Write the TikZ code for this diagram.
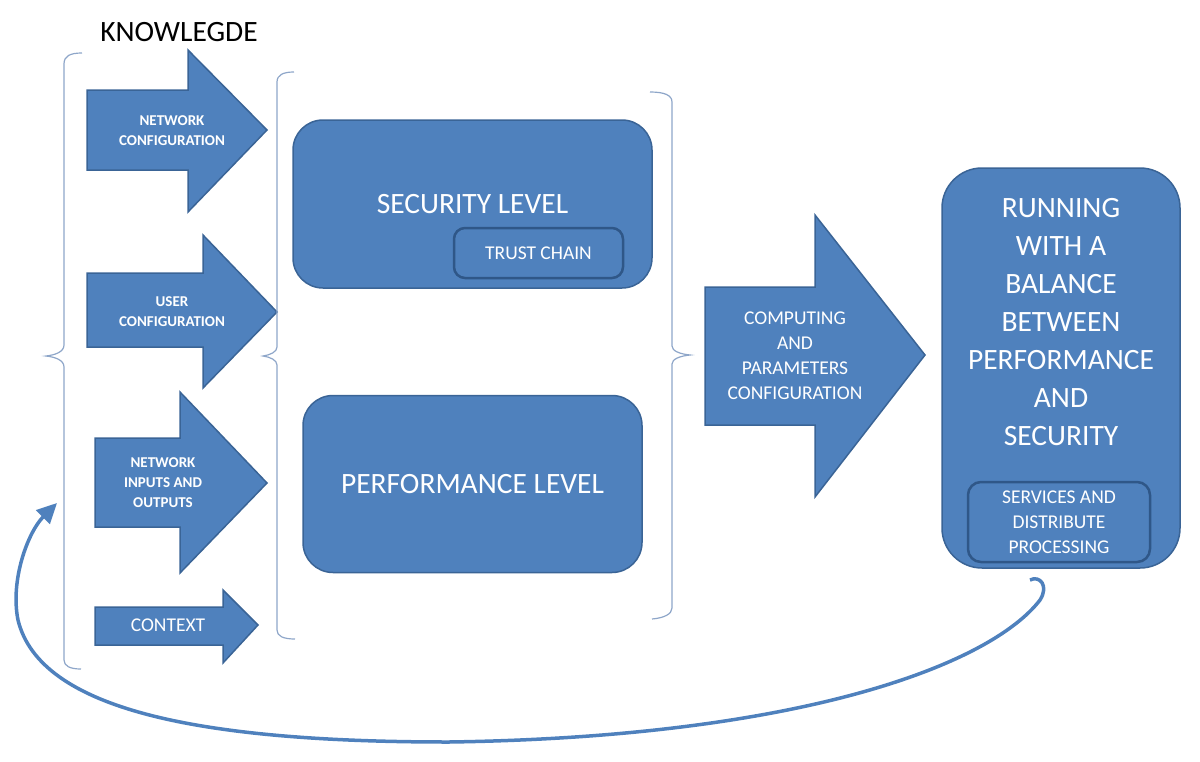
\documentclass[tikz,border=0pt]{standalone}
\usepackage{fontspec}
\setmainfont{Carlito}
\usetikzlibrary{arrows.meta}

\definecolor{officeblue}{HTML}{4F81BD}
\definecolor{officeedge}{HTML}{3A6496}
\definecolor{subedge}{HTML}{2F5788}
\definecolor{bracecol}{HTML}{8EA6C9}

\newcommand{\bigtext}{\fontsize{29.5}{38}\selectfont}
\newcommand{\midtext}{\fontsize{19.5}{25}\selectfont}
\newcommand{\smalltext}{\fontsize{15}{20}\selectfont\bfseries}

\begin{document}
\begin{tikzpicture}[x=1pt, y=-1pt, inner sep=0pt]
	\tikzstyle{every node}=[align=center, text=white]
	\tikzstyle{level}=[fill=officeblue, draw=officeedge, line width=1.5pt, rounded corners=30pt]
	\tikzstyle{sublevel}=[fill=officeblue, draw=subedge, line width=2.5pt, rounded corners=11pt]
	\tikzstyle{blockarrow}=[fill=officeblue, draw=officeedge, line width=1.5pt, line join=miter]
	\tikzstyle{bracket}=[draw=bracecol, line width=1.2pt]
	\useasboundingbox (0,0) rectangle (1200,761);

		\node[text=black, font=\bigtext] (knowledge) at (179,32) {KNOWLEGDE};

		% input arrows
		\fill[blockarrow] (87,90) -- (188,90) -- (188,50) -- (267,130) -- (188,212) -- (188,170) -- (87,170) -- cycle;
		\fill[blockarrow] (87,273) -- (203,273) -- (203,235) -- (277,312) -- (203,388) -- (203,347) -- (87,347) -- cycle;
		\fill[blockarrow] (95,438) -- (180,438) -- (180,392) -- (267,483) -- (180,573) -- (180,527) -- (95,527) -- cycle;
		\fill[blockarrow] (95,607) -- (223,607) -- (223,590) -- (258,625) -- (223,663) -- (223,645) -- (95,645) -- cycle;
		\node[font=\smalltext] (netconf) at (172,131) {NETWORK\\CONFIGURATION};
		\node[font=\smalltext] (userconf) at (172,312) {USER\\CONFIGURATION};
		\node[font=\smalltext] (netio) at (163,483) {NETWORK\\INPUTS AND\\OUTPUTS};
		\node[font=\midtext] (context) at (168,625) {CONTEXT};

		% brackets
		\draw[bracket] (82,53) .. controls (70,53) and (64,56) .. (64,64) -- (64,345) .. controls (64,352) and (55,355) .. (46,356) .. controls (55,357) and (64,360) .. (64,367) -- (64,660) .. controls (64,666) and (70,669) .. (81,669);
		\draw[bracket] (294,72) .. controls (283,72) and (277,75) .. (277,82) -- (277,347) .. controls (277,352) and (270,355) .. (263,356) .. controls (270,357) and (277,360) .. (277,365) -- (277,630) .. controls (277,636) and (283,639) .. (295,639);
		\draw[bracket] (650,92) .. controls (664,92) and (672,95) .. (672,102) -- (672,346) .. controls (672,351) and (680,354) .. (690,355) .. controls (680,356) and (672,359) .. (672,364) -- (672,608) .. controls (672,614) and (664,618) .. (652,619);

		% levels
		\node[level, minimum width=359pt, minimum height=168pt, font=\bigtext] (security) at (472.5,204) {SECURITY LEVEL};
		\node[sublevel, minimum width=169pt, minimum height=50pt, font=\midtext] (trust) at (538.5,253) {TRUST CHAIN};
		\node[level, minimum width=339pt, minimum height=177pt, font=\bigtext] (performance) at (472.5,484) {PERFORMANCE LEVEL};

		% computing arrow
		\fill[blockarrow] (705,287) -- (815,287) -- (815,215) -- (925,355) -- (815,497) -- (815,425) -- (705,425) -- cycle;
		\node[font=\midtext] (computing) at (795,355.5) {COMPUTING\\AND\\PARAMETERS\\CONFIGURATION};

		% result
		\node[level, rounded corners=40pt, minimum width=238pt, minimum height=400pt] (running) at (1061,368) {};
		\node[font=\bigtext] (balance) at (1061,322) {RUNNING\\WITH A\\BALANCE\\BETWEEN\\PERFORMANCE\\AND\\SECURITY};
		\node[sublevel, rounded corners=13pt, minimum width=182pt, minimum height=80pt, font=\midtext] (services) at (1059,522) {SERVICES AND\\DISTRIBUTE\\PROCESSING};

		% feedback loop
		\coordinate (loopstart) at (1030,580);
		\coordinate (loopend) at (57,503);
		\draw[officeblue, line width=3.5pt, -{Triangle[length=20pt, width=19pt]}] (loopstart) .. controls (1040,575) and (1049,586) .. (1040,600) .. controls (990,665) and (800,737) .. (449,742) .. controls (200,742) and (40,710) .. (18,620) .. controls (10,580) and (28,532) .. (loopend);
	\end{tikzpicture}
\end{document}
